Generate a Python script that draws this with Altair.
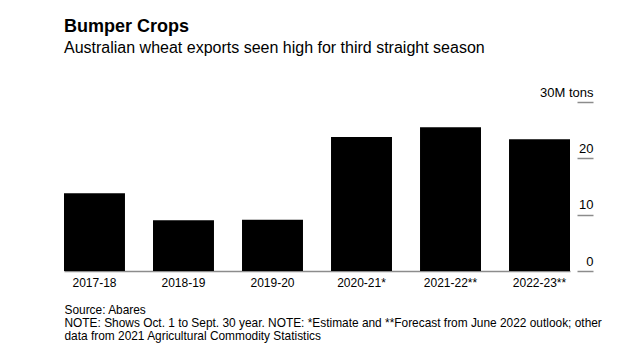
import altair as alt
import pandas as pd

seasons = ["2017-18", "2018-19", "2019-20", "2020-21*", "2021-22**", "2022-23**"]
exports_mt = [13.8, 9.0, 9.1, 23.8, 25.5, 23.4]
y_ticks = [0, 10, 20, 30]

title_text = "Bumper Crops"
subtitle_text = "Australian wheat exports seen high for third straight season"
footer_lines = [
    "Source: Abares",
    "NOTE: Shows Oct. 1 to Sept. 30 year. NOTE: *Estimate and **Forecast from June 2022 outlook; other",
    "data from 2021 Agricultural Commodity Statistics",
]

df = pd.DataFrame({"season": seasons, "exports": exports_mt})

FONT = "Liberation Sans"

chart = alt.Chart(df).mark_bar(color="#000000").encode(
    x=alt.X(
        "season:N",
        sort=seasons,
        scale=alt.Scale(range=[0, 506], paddingInner=0.315, paddingOuter=0),
        axis=alt.Axis(
            title=footer_lines,
            titleAnchor="start",
            titleAlign="left",
            titleBaseline="top",
            titleFont=FONT,
            titleFontSize=11.9,
            titleFontWeight="normal",
            titleColor="#000000",
            titleLineHeight=13,
            titlePadding=16,
            labelAngle=0,
            labelFont=FONT,
            labelFontSize=12,
            labelColor="#000000",
            labelPadding=6,
            ticks=False,
            domainColor="#8c8c8c",
            domainWidth=1.5,
        ),
    ),
    y=alt.Y(
        "exports:Q",
        scale=alt.Scale(domain=[0, 30]),
        axis=alt.Axis(
            orient="right",
            values=y_ticks,
            offset=-16,
            tickSize=16,
            tickColor="#8c8c8c",
            tickWidth=1.5,
            labelPadding=0,
            labelAlign="right",
            labelBaseline="alphabetic",
            labelOffset=-6,
            labelFont=FONT,
            labelFontSize=13,
            labelColor="#000000",
            labelExpr="datum.value == 30 ? '30M tons' : datum.label",
            domain=False,
            grid=False,
            title=None,
        ),
    ),
).properties(
    width=529,
    height=169,
    background="white",
    padding={"left": 64, "top": 18, "right": 10, "bottom": 10},
    title=alt.TitleParams(
        text=title_text,
        subtitle=subtitle_text,
        anchor="start",
        font=FONT,
        fontSize=18,
        fontWeight="bold",
        color="#000000",
        subtitleFont=FONT,
        subtitleFontSize=16,
        subtitleColor="#000000",
        subtitlePadding=4,
        offset=30,
    ),
).configure_view(strokeWidth=0)

chart.save("out.html", embed_options={"renderer": "svg", "actions": False})
